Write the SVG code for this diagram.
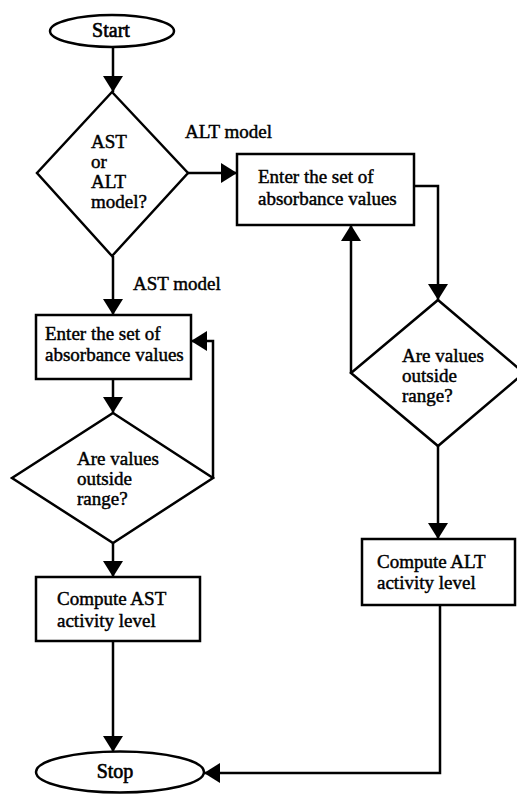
<svg xmlns="http://www.w3.org/2000/svg" width="517" height="795" viewBox="0 0 517 795">
  <defs>
    <marker id="arrow" markerUnits="userSpaceOnUse" markerWidth="17" markerHeight="20" refX="16" refY="10" orient="auto">
      <path d="M0,0 L16,10 L0,20 z" fill="#000"/>
    </marker>
    <style>
      .shape { fill: #fff; stroke: #000; stroke-width: 2.5; }
      .link { fill: none; stroke: #000; stroke-width: 2.5; }
      .arrow { marker-end: url(#arrow); }
      text { font-family: "Liberation Serif", "Times New Roman", serif; font-size: 19px; fill: #000; stroke: #000; stroke-width: 0.45; }
      .mid { text-anchor: middle; }
      .term { font-size: 20px; stroke-width: 0.6; }
    </style>
  </defs>
  <rect width="517" height="795" fill="#fff"/>

  <!-- connectors -->
  <g id="connectors">
    <path class="link arrow" d="M113,47 L113,92"/>
    <path class="link arrow" d="M188,173 L237,173"/>
    <path class="link arrow" d="M414,186 L438,186 L438,300"/>
    <path class="link arrow" d="M351,373 L351,225"/>
    <path class="link arrow" d="M438,446 L438,539"/>
    <path class="link arrow" d="M440,605 L440,773 L204,773"/>
    <path class="link arrow" d="M113,256 L113,315"/>
    <path class="link arrow" d="M113,379 L113,413"/>
    <path class="link arrow" d="M213,478 L213,341 L191,341"/>
    <path class="link arrow" d="M113,543 L113,577"/>
    <path class="link arrow" d="M113,641 L113,752"/>
    <text x="185" y="138">ALT model</text>
    <text x="133" y="290">AST model</text>
  </g>

  <!-- nodes -->
  <g id="start">
    <ellipse class="shape" cx="112" cy="31" rx="62" ry="16"/>
    <text class="mid term" x="111" y="37">Start</text>
  </g>

  <g id="choose-model">
    <polygon class="shape" points="112,92 188,173 112,256 37,173"/>
    <text x="91" y="148">AST</text>
    <text x="91" y="168">or</text>
    <text x="91" y="188">ALT</text>
    <text x="91" y="208">model?</text>
  </g>

  <g id="alt-enter">
    <rect class="shape" x="237" y="154" width="177" height="71"/>
    <text x="258" y="183">Enter the set of</text>
    <text x="258" y="205">absorbance values</text>
  </g>

  <g id="alt-check">
    <polygon class="shape" points="438,300 524,373 438,446 351,373"/>
    <text x="402" y="362">Are values</text>
    <text x="402" y="382">outside</text>
    <text x="402" y="402">range?</text>
  </g>

  <g id="alt-compute">
    <rect class="shape" x="362" y="539" width="153" height="66"/>
    <text x="377" y="568">Compute ALT</text>
    <text x="377" y="589">activity level</text>
  </g>

  <g id="ast-enter">
    <rect class="shape" x="36" y="315" width="155" height="64"/>
    <text x="45" y="340">Enter the set of</text>
    <text x="45" y="361">absorbance values</text>
  </g>

  <g id="ast-check">
    <polygon class="shape" points="113,413 213,478 113,543 12,478"/>
    <text x="77" y="465">Are values</text>
    <text x="77" y="485">outside</text>
    <text x="77" y="505">range?</text>
  </g>

  <g id="ast-compute">
    <rect class="shape" x="36" y="577" width="164" height="64"/>
    <text x="57" y="605">Compute AST</text>
    <text x="57" y="627">activity level</text>
  </g>

  <g id="stop">
    <ellipse class="shape" cx="120" cy="772" rx="84" ry="20.5"/>
    <text class="mid term" x="115" y="778">Stop</text>
  </g>
</svg>
